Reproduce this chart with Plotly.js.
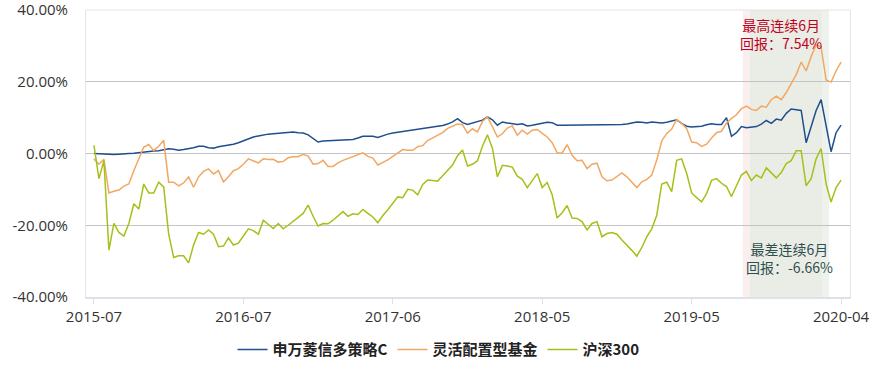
<!DOCTYPE html>
<html>
<head>
<meta charset="utf-8">
<script src="https://cdn.plot.ly/plotly-3.0.1.min.js"></script>
<style>html,body{margin:0;padding:0;background:#fff;}#chart{width:877px;height:365px;}</style>
</head>
<body>
<div id="chart"></div>
<script>
// Tick labels and their positions (sample index)
const tickLabels = ['2015-07','2016-07','2017-06','2018-05','2019-05','2020-04'];
const tickIndex = [0, 30, 60, 90, 120, 150];
const yTickVals = [-40, -20, 0, 20, 40];
const yTickLabels = ['-40.00%', '-20.00%', '0.00%', '20.00%', '40.00%'];

const seriesNames = ['申万菱信多策略C', '灵活配置型基金', '沪深300'];

// Cumulative return (%) per sample
const fundC = [
0.0,-0.1,-0.2,-0.2,-0.3,-0.2,-0.2,0.0,0.1,0.3,
0.4,0.5,0.7,0.8,1.1,1.3,1.2,0.9,1.1,1.3,
1.6,2.0,2.0,1.6,1.5,1.9,2.1,2.3,2.6,3.0,
3.6,4.2,4.6,4.9,5.2,5.4,5.5,5.6,5.7,5.9,
6.0,5.8,5.7,5.2,4.2,3.2,3.5,3.6,3.7,3.7,
3.8,3.8,3.9,4.3,4.8,4.8,4.8,4.5,5.0,5.4,
5.7,5.9,6.1,6.3,6.5,6.6,6.9,7.0,7.2,7.5,
7.8,8.2,8.8,9.7,8.6,8.1,8.5,8.8,9.3,10.2,
9.4,7.9,8.8,8.5,8.3,8.1,8.3,7.7,7.9,8.1,
8.5,8.7,8.6,7.9,7.9,7.9,8.1,8.0,7.9,7.9,
7.9,8.0,8.0,8.1,8.1,8.1,8.1,8.2,8.5,8.8,
8.7,8.5,8.8,8.6,8.5,8.7,9.0,9.4,8.4,7.6,
7.4,7.5,7.6,8.0,8.3,8.1,8.1,10.0,4.8,5.8,
7.5,7.2,7.3,7.5,8.2,9.2,8.4,9.6,9.3,11.2,
12.4,12.3,12.0,3.0,7.5,12.0,15.0,7.5,0.5,5.8,
7.9
];

const flexFunds = [
-1.5,-3.0,-1.6,-11.0,-10.5,-10.2,-9.1,-8.5,-4.8,-1.5,
1.8,2.5,0.8,2.0,3.7,-8.0,-8.0,-9.0,-8.2,-6.5,
-9.4,-6.5,-5.0,-4.3,-5.7,-4.8,-7.9,-6.5,-4.8,-4.2,
-3.0,-1.5,-2.0,-2.6,-1.5,-1.7,-1.6,-2.4,-2.2,-1.2,
-0.9,-0.9,-0.2,-0.7,-3.0,-2.8,-1.9,-3.6,-3.6,-2.6,
-1.9,-1.4,-0.9,-0.4,0.2,-0.8,-1.3,-3.2,-2.6,-1.8,
-0.8,0.2,1.1,0.9,0.9,1.9,2.2,3.6,4.3,5.0,
5.8,7.0,7.6,8.2,8.0,5.7,6.9,6.0,8.9,10.2,
7.5,4.6,5.5,7.1,7.7,5.1,6.5,5.4,6.5,6.7,
5.6,4.6,3.0,0.2,0.1,2.5,-0.5,-2.0,-1.9,-4.2,
-3.0,-2.7,-6.5,-7.6,-7.4,-6.3,-5.4,-6.5,-7.9,-9.5,
-7.9,-7.2,-6.0,-1.8,3.5,5.6,6.8,9.5,8.4,7.0,
3.2,3.0,2.0,2.6,4.3,5.8,6.2,8.5,9.8,10.8,
12.5,13.2,12.3,12.0,13.2,12.9,15.0,16.0,15.0,17.0,
19.5,22.0,25.5,23.0,27.0,30.3,29.7,20.5,19.9,23.0,
25.5
];

const csi300 = [
2.3,-7.0,-2.0,-26.9,-19.5,-22.0,-23.0,-19.5,-14.0,-15.5,
-8.5,-11.0,-11.0,-8.0,-9.3,-22.5,-29.0,-28.5,-28.5,-30.5,
-25.5,-22.0,-22.5,-21.3,-22.5,-26.0,-25.8,-23.5,-25.5,-25.0,
-23.0,-21.0,-21.5,-22.5,-18.6,-19.8,-20.9,-19.5,-21.0,-20.0,
-19.0,-17.8,-16.7,-14.4,-17.5,-20.2,-19.5,-19.6,-18.6,-17.3,
-16.2,-17.5,-16.8,-17.0,-15.6,-16.7,-17.7,-19.3,-17.3,-15.7,
-14.0,-12.1,-12.3,-10.0,-10.2,-11.5,-8.6,-7.4,-7.5,-7.7,
-6.2,-4.7,-3.2,-0.6,1.0,-3.5,-3.0,-2.0,2.0,5.2,
1.5,-6.5,-3.3,-3.5,-3.8,-6.3,-7.2,-9.5,-7.5,-5.6,
-9.5,-8.1,-11.5,-18.0,-16.5,-14.5,-18.0,-18.1,-19.0,-21.3,
-19.5,-19.0,-23.2,-22.3,-22.0,-22.5,-24.1,-25.5,-27.0,-28.6,
-26.2,-23.2,-21.0,-17.2,-8.5,-8.0,-10.6,-1.9,-1.5,-5.5,
-11.0,-12.3,-13.5,-11.2,-7.5,-7.0,-8.3,-9.2,-12.0,-9.0,
-6.0,-5.0,-7.5,-6.0,-6.8,-4.0,-5.5,-6.8,-5.3,-2.8,
-2.0,0.8,0.8,-9.0,-7.0,-1.5,1.4,-8.5,-13.5,-9.5,
-7.4
];

// Highlighted 6-month windows (sample index)
const bestWindow = [130.3, 146.2];
const worstWindow = [131.7, 147.6];
const bestText = ['最高连续6月', '回报：7.54%'];
const worstText = ['最差连续6月', '回报：-6.66%'];

const idx = fundC.map((_, i) => i);
const colors = ['#1f4f8b', '#f2a762', '#a6c01b'];
const FONT = '"Microsoft YaHei", "Noto Sans CJK SC", "Noto Sans", sans-serif';
const TICKFONT = '"Open Sans", "Noto Sans CJK SC", sans-serif';

const traces = [fundC, flexFunds, csi300].map((ys, j) => ({
  x: idx, y: ys, type: 'scatter', mode: 'lines', name: seriesNames[j],
  line: {color: colors[j], width: 1.5}, hoverinfo: 'skip'
}));

const ovStart = Math.max(bestWindow[0], worstWindow[0]);
const ovEnd = Math.min(bestWindow[1], worstWindow[1]);

const layout = {
  width: 877, height: 365,
  margin: {l: 86, r: 27, t: 10, b: 68},
  paper_bgcolor: '#ffffff', plot_bgcolor: '#ffffff',
  font: {family: FONT, size: 14, color: '#333333'},
  showlegend: true,
  legend: {
    orientation: 'h', xref: 'container', yref: 'container',
    x: 0.5, xanchor: 'center', y: 0.042, yanchor: 'middle',
    font: {family: FONT, size: 15, color: '#222222', weight: 'bold'},
    itemwidth: 30, tracegroupgap: 0
  },
  xaxis: {
    type: 'linear', range: [-1.6, 151.8],
    tickvals: tickIndex, ticktext: tickLabels,
    showgrid: false, zeroline: false,
    showline: true, linecolor: '#dde2ea', linewidth: 2,
    ticks: 'outside', ticklen: 5, tickcolor: '#dde2ea', tickwidth: 1,
    ticklabeloverflow: 'allow',
    tickfont: {family: TICKFONT, size: 15, color: '#333333'}
  },
  yaxis: {
    range: [-40, 40], tickvals: yTickVals, ticktext: yTickLabels,
    showgrid: true, gridcolor: '#c4c4c4', gridwidth: 1,
    zeroline: false, showline: true, mirror: true, linecolor: '#e4e4e4', linewidth: 1,
    ticks: '', ticklabelstandoff: 14, ticklabeloverflow: 'allow',
    tickfont: {family: TICKFONT, size: 15, color: '#333333'}
  },
  shapes: [
    {type: 'rect', layer: 'below', xref: 'x', yref: 'paper', x0: bestWindow[0], x1: ovStart, y0: 0, y1: 1,
     fillcolor: '#fbeeee', line: {width: 0}},
    {type: 'rect', layer: 'below', xref: 'x', yref: 'paper', x0: ovStart, x1: ovEnd, y0: 0, y1: 1,
     fillcolor: '#eaede5', line: {width: 0}},
    {type: 'rect', layer: 'below', xref: 'x', yref: 'paper', x0: ovEnd, x1: worstWindow[1], y0: 0, y1: 1,
     fillcolor: '#eef2ec', line: {width: 0}},
    {type: 'line', layer: 'above', xref: 'paper', yref: 'paper', x0: 0, x1: 1, y0: 1, y1: 1,
     line: {color: '#e4e4e4', width: 1}}
  ],
  annotations: [
    {xref: 'x', yref: 'y', x: 138, y: 33.2, text: bestText.join('<br>'), showarrow: false,
     xanchor: 'center', yanchor: 'middle', align: 'center',
     font: {family: FONT, size: 14, color: '#c0001e'}},
    {xref: 'x', yref: 'y', x: 139.6, y: -29.0, text: worstText.join('<br>'), showarrow: false,
     xanchor: 'center', yanchor: 'middle', align: 'center',
     font: {family: FONT, size: 14, color: '#2f4f4f'}}
  ]
};

Plotly.newPlot('chart', traces, layout, {displayModeBar: false, staticPlot: true});
</script>
</body>
</html>
